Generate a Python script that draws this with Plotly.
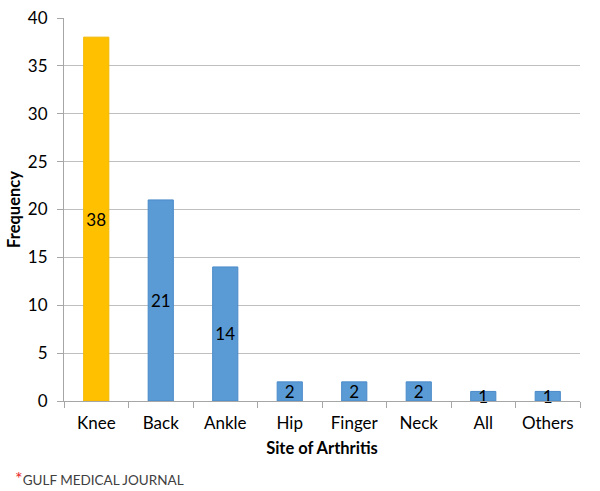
import plotly.graph_objects as go

categories = ["Knee", "Back", "Ankle", "Hip", "Finger", "Neck", "All", "Others"]
values = [38, 21, 14, 2, 2, 2, 1, 1]
colors = ["#FFC000"] + ["#5B9BD5"] * 7
line_colors = ["#F2B800"] + ["#4A8AC8"] * 7

FONT = "Lato, Open Sans, sans-serif"

fig = go.Figure()
fig.add_trace(go.Bar(
    x=categories, y=values,
    marker=dict(color=colors, line=dict(color=line_colors, width=1)),
    width=0.39,
    text=[str(v) for v in values],
    textposition="inside",
    insidetextanchor="middle",
    textangle=0,
    textfont=dict(family=FONT, size=17, color="black"),
    cliponaxis=False,
))

fig.update_layout(
    width=600, height=491,
    margin=dict(l=64, r=20, t=18, b=90, autoexpand=False),
    plot_bgcolor="white", paper_bgcolor="white",
    showlegend=False,
    uniformtext=dict(minsize=17, mode="show"),
    font=dict(family=FONT, size=17, color="black"),
    xaxis=dict(
        automargin=False,
        showline=True, linecolor="#A6A6A6", linewidth=1,
        ticks="outside", ticklen=6, tickcolor="#A6A6A6",
        tickson="boundaries",
        ticklabelstandoff=7,
        tickfont=dict(size=17),
        title=dict(text="<b>Site of Arthritis</b>", font=dict(size=16.5), standoff=10),
    ),
    yaxis=dict(
        automargin=False,
        range=[0, 40], dtick=5,
        showline=True, linecolor="#A6A6A6", linewidth=1,
        ticks="outside", ticklen=6, tickcolor="#A6A6A6",
        ticklabelstandoff=6,
        showgrid=True, gridcolor="#BFBFBF", gridwidth=1,
        zeroline=False,
        tickfont=dict(size=17),
        title=dict(text="<b>Frequency</b>", font=dict(size=16.5), standoff=3),
    ),
)

fig.add_annotation(
    xref="paper", yref="paper", x=-0.098, y=-0.168, xanchor="left", yanchor="top",
    text="<span style='color:#E8262A;font-size:18px'>*</span><span style='color:#404040'>GULF MEDICAL JOURNAL</span>",
    showarrow=False, font=dict(family=FONT, size=13.5),
)

fig.write_html(
    "out.html",
    config={"displayModeBar": False},
    post_script="document.body.style.margin='0';document.body.style.padding='0';",
)
